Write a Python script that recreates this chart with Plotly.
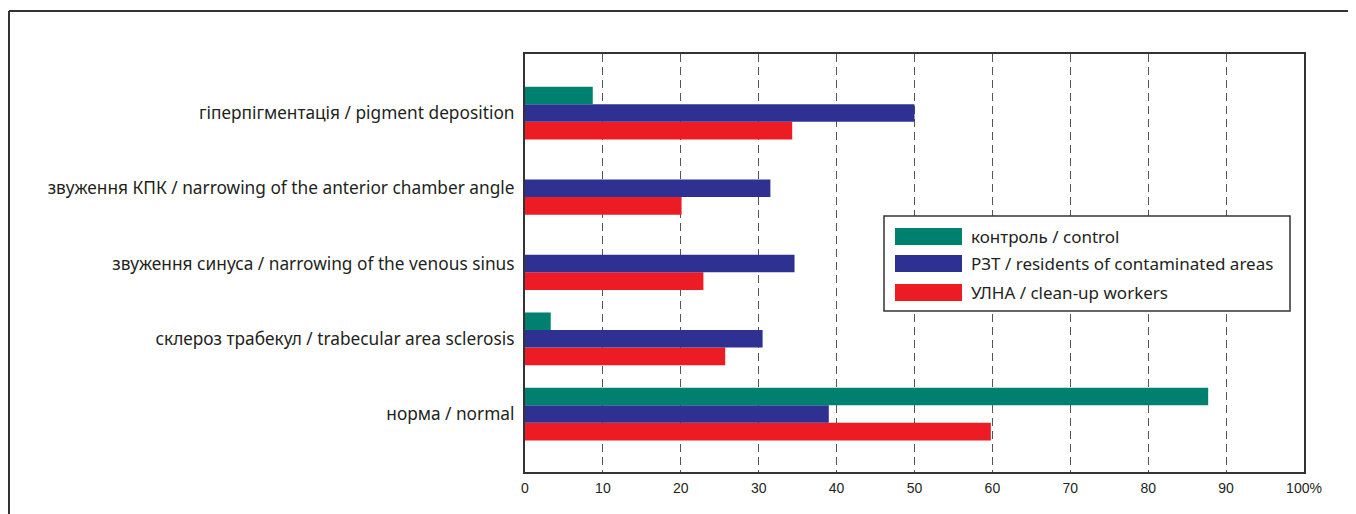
import plotly.graph_objects as go

categories = [
    "норма / normal",
    "склероз трабекул / trabecular area sclerosis",
    "звуження синуса / narrowing of the venous sinus",
    "звуження КПК / narrowing of the anterior chamber angle",
    "гіперпігментація / pigment deposition",
]
control = [87.7, 3.3, None, None, 8.7]
residents = [39.0, 30.5, 34.6, 31.5, 50.0]
cleanup = [59.8, 25.7, 22.9, 20.1, 34.3]

series_names = ["контроль / control", "РЗТ / residents of contaminated areas", "УЛНА / clean-up workers"]
colors = ["#00806F", "#2E3192", "#ED1C24"]

tick_vals = [0, 10, 20, 30, 40, 50, 60, 70, 80, 90, 100]
tick_text = ["0", "10", "20", "30", "40", "50", "60", "70", "80", "90", "100%"]

fig = go.Figure()
# drawn bottom to top within each group: red, blue, green
for vals, name, col in [(cleanup, series_names[2], colors[2]),
                        (residents, series_names[1], colors[1]),
                        (control, series_names[0], colors[0])]:
    fig.add_trace(go.Bar(y=categories, x=vals, orientation="h", name=name,
                         marker=dict(color=col, line=dict(width=0)), showlegend=False))

# page body has an 8px margin; compensate so the plot lands where the reference has it
OFF = 8
W, H = 1356 - OFF, 514 - OFF
ML, MR, MT, MB = 525 - OFF, 52, 54 - OFF, 42
pw, ph = W - ML - MR, H - MT - MB

def px(x):
    return (x - OFF - ML) / pw

def py(y):
    return (H - MB - (y - OFF)) / ph

fig.update_layout(
    width=W, height=H,
    margin=dict(l=ML, r=MR, t=MT, b=MB),
    paper_bgcolor="white", plot_bgcolor="white",
    barmode="group", bargap=0.3, bargroupgap=0,
    font=dict(family="Noto Sans", color="#231F20"),
)
fig.update_xaxes(
    range=[0, 100], tickvals=tick_vals, ticktext=tick_text,
    showgrid=True, gridcolor="#555555", gridwidth=1.3, griddash="8px,5px",
    showline=True, linecolor="#333333", linewidth=2, mirror=True,
    ticks="", ticklabelstandoff=2,
    tickfont=dict(family="Liberation Sans Narrow, Liberation Sans", size=14, color="#231F20"),
    zeroline=False,
)
fig.update_yaxes(
    range=[-0.77, 4.785], showgrid=False, categoryorder="array", categoryarray=categories,
    showline=True, linecolor="#333333", linewidth=2, mirror=True,
    ticks="", ticklabelstandoff=5,
    tickfont=dict(family="Noto Sans", size=17.3, color="#231F20"),
)

shapes = []
# outer frame (top and left edges)
shapes.append(dict(type="line", xref="paper", yref="paper", x0=px(9), x1=px(1360), y0=py(11), y1=py(11),
                   line=dict(color="#333333", width=2)))
shapes.append(dict(type="line", xref="paper", yref="paper", x0=px(9), x1=px(9), y0=py(11), y1=py(520),
                   line=dict(color="#333333", width=2)))
# legend box
shapes.append(dict(type="rect", xref="paper", yref="paper", x0=px(884), x1=px(1290), y0=py(311), y1=py(216),
                   fillcolor="white", line=dict(color="#333333", width=1.5), layer="above"))
annotations = []
rows = [(228, 245), (255, 272), (284, 301)]
for (y0, y1), name, col in zip(rows, series_names, colors):
    shapes.append(dict(type="rect", xref="paper", yref="paper", x0=px(895), x1=px(962), y0=py(y1), y1=py(y0),
                       fillcolor=col, line=dict(width=0), layer="above"))
    annotations.append(dict(xref="paper", yref="paper", x=px(969), y=py((y0 + y1) / 2), text=name,
                            showarrow=False, xanchor="left", yanchor="middle",
                            font=dict(family="Noto Sans", size=17, color="#231F20")))
fig.update_layout(shapes=shapes, annotations=annotations)

fig.write_html("out.html")
